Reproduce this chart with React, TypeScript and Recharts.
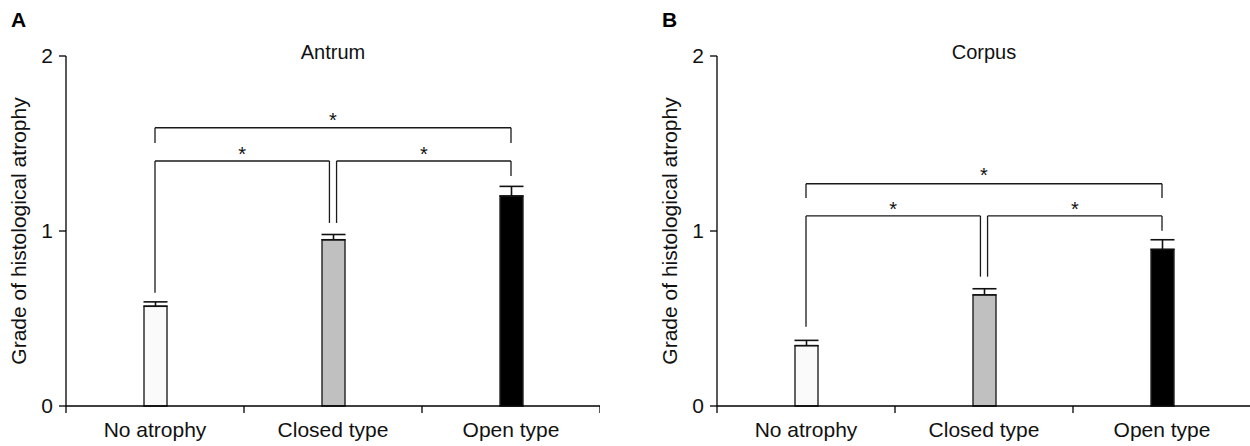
import React from "react";
import {
  BarChart,
  Bar,
  Cell,
  XAxis,
  YAxis,
  ErrorBar,
  ReferenceLine,
  ReferenceDot
} from "recharts";

const categories = ["No atrophy", "Closed type", "Open type"];
const barFills = ["#fafafa", "#c0c0c0", "#000000"];

// mean grade and upper SE
const antrumMean = [0.57, 0.95, 1.2];
const antrumErr = [0.025, 0.03, 0.055];
const corpusMean = [0.345, 0.635, 0.895];
const corpusErr = [0.03, 0.035, 0.055];

// significance brackets: x in category units, y and leg ends in grade units
const antrumBrackets = [
  { x1: 0.5, x2: 2.5, y: 1.59, leg1: 1.503, leg2: 1.503, star: 1.66 },
  { x1: 0.5, x2: 1.48, y: 1.4, leg1: 0.647, leg2: 1.046, star: 1.463 },
  { x1: 1.52, x2: 2.5, y: 1.4, leg1: 1.046, leg2: 1.314, star: 1.463 }
];
const corpusBrackets = [
  { x1: 0.5, x2: 2.5, y: 1.27, leg1: 1.189, leg2: 1.189, star: 1.343 },
  { x1: 0.5, x2: 1.48, y: 1.086, leg1: 0.453, leg2: 0.739, star: 1.149 },
  { x1: 1.52, x2: 2.5, y: 1.086, leg1: 0.739, leg2: 1.002, star: 1.149 }
];

const yTicks = [0, 1, 2];
const boundaryTicks = [0, 1, 2, 3];
const labelTicks = [0.5, 1.5, 2.5];

const FONT = "'Liberation Sans', Arial, Helvetica, sans-serif";

type Bracket = { x1: number; x2: number; y: number; leg1: number; leg2: number; star: number };

function Panel({
  mean,
  err,
  brackets
}: {
  mean: number[];
  err: number[];
  brackets: Bracket[];
}) {
  const data = categories.map((name, i) => ({
    name,
    pos: i + 0.5,
    value: mean[i],
    err: [0, err[i]]
  }));

  const lineProps = { stroke: "#1a1a1a", strokeWidth: 1.3, xAxisId: "a_main", ifOverflow: "visible" as const };

  return (
    <BarChart
      width={600}
      height={446}
      data={data}
      margin={{ top: 56, right: 0, left: 0, bottom: 0 }}
      style={{ fontFamily: FONT }}
    >
      <XAxis
        xAxisId="a_main"
        type="number"
        dataKey="pos"
        domain={[0, 3]}
        ticks={boundaryTicks}
        tickFormatter={() => ""}
        tickSize={7}
        height={7}
        stroke="#000"
        strokeWidth={1.3}
      />
      <XAxis
        xAxisId="b_lab"
        type="number"
        dataKey="pos"
        domain={[0, 3]}
        ticks={labelTicks}
        tickFormatter={(v: number) => categories[Math.floor(v)]}
        axisLine={false}
        tickLine={false}
        tickSize={0}
        tickMargin={9}
        height={33}
        tick={{ fontSize: 21, fill: "#111", fontFamily: FONT }}
      />
      <YAxis
        type="number"
        domain={[0, 2]}
        ticks={yTicks}
        width={66}
        tickSize={7}
        tickMargin={6}
        stroke="#000"
        strokeWidth={1.3}
        tick={{ fontSize: 21, fill: "#111", fontFamily: FONT }}
        label={{
          content: () => (
            <text
              x={18}
              y={231}
              transform="rotate(-90 18 231)"
              textAnchor="middle"
              dominantBaseline="central"
              fontSize={21}
              fill="#111"
              fontFamily={FONT}
            >
              Grade of histological atrophy
            </text>
          )
        }}
      />
      <Bar
        xAxisId="a_main"
        dataKey="value"
        barSize={23}
        stroke="#222"
        strokeWidth={1.4}
        isAnimationActive={false}
      >
        {data.map((d, i) => (
          <Cell key={d.name} fill={barFills[i]} />
        ))}
        <ErrorBar dataKey="err" width={12} stroke="#111" strokeWidth={1.6} direction="y" />
      </Bar>
      {brackets.map((b, i) => (
        <ReferenceLine key={"h" + i} {...lineProps} segment={[{ x: b.x1, y: b.y }, { x: b.x2, y: b.y }]} />
      ))}
      {brackets.map((b, i) => (
        <ReferenceLine key={"l" + i} {...lineProps} segment={[{ x: b.x1, y: b.y }, { x: b.x1, y: b.leg1 }]} />
      ))}
      {brackets.map((b, i) => (
        <ReferenceLine key={"r" + i} {...lineProps} segment={[{ x: b.x2, y: b.y }, { x: b.x2, y: b.leg2 }]} />
      ))}
      {brackets.map((b, i) => (
        <ReferenceDot
          key={"s" + i}
          xAxisId="a_main"
          x={(b.x1 + b.x2) / 2}
          y={b.star}
          r={0}
          ifOverflow="visible"
          shape={(p: any) => (
            <text
              x={p.cx}
              y={p.cy + 11}
              textAnchor="middle"
              fontSize={20}
              fill="#111"
              fontFamily={FONT}
            >
              *
            </text>
          )}
        />
      ))}
    </BarChart>
  );
}

const titleStyle: React.CSSProperties = {
  position: "absolute",
  width: 200,
  textAlign: "center",
  fontSize: 20,
  lineHeight: "20px",
  fontFamily: FONT,
  color: "#111"
};

const letterStyle: React.CSSProperties = {
  position: "absolute",
  fontSize: 21,
  lineHeight: "21px",
  fontWeight: "bold",
  fontFamily: FONT,
  color: "#000"
};

export default function App() {
  return (
    <div
      style={{
        position: "absolute",
        left: 0,
        top: 0,
        width: 1250,
        height: 446,
        background: "#fff",
        overflow: "hidden"
      }}
    >
      <div style={{ position: "absolute", left: 0, top: 0 }}>
        <Panel mean={antrumMean} err={antrumErr} brackets={antrumBrackets} />
      </div>
      <div style={{ position: "absolute", left: 651, top: 0 }}>
        <Panel mean={corpusMean} err={corpusErr} brackets={corpusBrackets} />
      </div>
      <div style={{ ...letterStyle, left: 11, top: 9 }}>A</div>
      <div style={{ ...letterStyle, left: 662, top: 9 }}>B</div>
      <div style={{ ...titleStyle, left: 233, top: 42 }}>Antrum</div>
      <div style={{ ...titleStyle, left: 884, top: 42 }}>Corpus</div>
    </div>
  );
}
